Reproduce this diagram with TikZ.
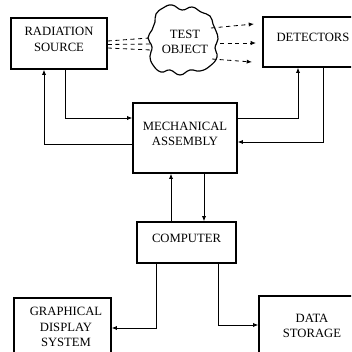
\documentclass[tikz,border=0pt]{standalone}
\usepackage{fontspec}
\setmainfont{Liberation Serif}
\usetikzlibrary{arrows.meta,calc,fit}
\begin{document}
\begin{tikzpicture}[x=0.3mm,y=-0.3mm]
	\tikzset{box/.style={draw,line width=1.2pt,inner sep=0pt},
		txt/.style={align=center,font=\fontsize{10.8}{13}\selectfont},
		tip/.style={-{Latex[length=4.5pt,width=3.6pt]}},
		wire/.style={line width=0.7pt,tip},
		beam/.style={line width=0.7pt,dash pattern=on 3.5pt off 3pt}}
	\clip (0,0) rectangle (351,352);
	\node[box,txt,fit={(11,18) (107,69)}] (rad) {RADIATION\\SOURCE};
	\node[box,txt,fit={(263,17) (363,67)}] (det) {DETECTORS};
	\node[box,txt,fit={(133,103) (237,173)}] (mech) {MECHANICAL\\ASSEMBLY};
	\node[box,txt,fit={(137,222) (236,263)}] (comp) {COMPUTER};
	\node[box,fit={(14,298) (111,362)}] (gds) {};
	\node[box,fit={(259,296) (395,365)}] (ds) {};
	\node[txt] (gdstxt) at (66,327) {GRAPHICAL\\DISPLAY\\SYSTEM};
	\node[txt] (dstxt) at (312,326) {DATA\\STORAGE};
	\draw[line width=1pt] plot[smooth cycle,tension=0.8] coordinates {(156,14) (163,8) (172,5) (182,10) (192,7) (201,12) (210,16) (213,24) (216,31) (218,39) (215,48) (217,57) (210,66) (200,71) (190,70) (180,75) (170,70) (161,72) (153,65) (150,56) (152,47) (148,38) (152,30) (155,22)};
	\node[txt] (obj) at (185,42) {TEST\\OBJECT};
	\foreach \s/\x/\y [count=\i] in {-2.5/149/38,1/150/44,4.5/151/50}
		\draw[beam] ($(rad.east)+(0,\s)$) -- (\x,\y) coordinate (in\i);
	\foreach \a/\b/\c/\d [count=\i] in {211/28/254/24,220/43/256/43,212/59/252/62}
		\draw[beam,tip] (\a,\b) coordinate (out\i) -- (\c,\d) coordinate (ray\i);
	\draw[wire] ($(rad.south)+(6,0)$) |- ($(mech.west)+(0,-20)$);
	\draw[wire] ($(mech.west)+(0,6)$) -| ($(rad.south)+(-15,0)$);
	\draw[wire] ($(mech.east)+(0,-20)$) -| ($(det.south)+(-15,0)$);
	\draw[wire] ($(det.south)+(10,0)$) |- ($(mech.east)+(0,4)$);
	\draw[wire] ($(comp.north)+(-15.5,0)$) coordinate (u) -- (u |- mech.south);
	\draw[wire] ($(mech.south)+(19,0)$) coordinate (d) -- (d |- comp.north);
	\draw[wire] ($(comp.south)+(-30.5,0)$) |- ($(gds.east)+(0,-2)$);
	\draw[wire] ($(comp.south)+(31.5,0)$) |- ($(ds.west)+(0,-5.5)$);
\end{tikzpicture}
\end{document}
